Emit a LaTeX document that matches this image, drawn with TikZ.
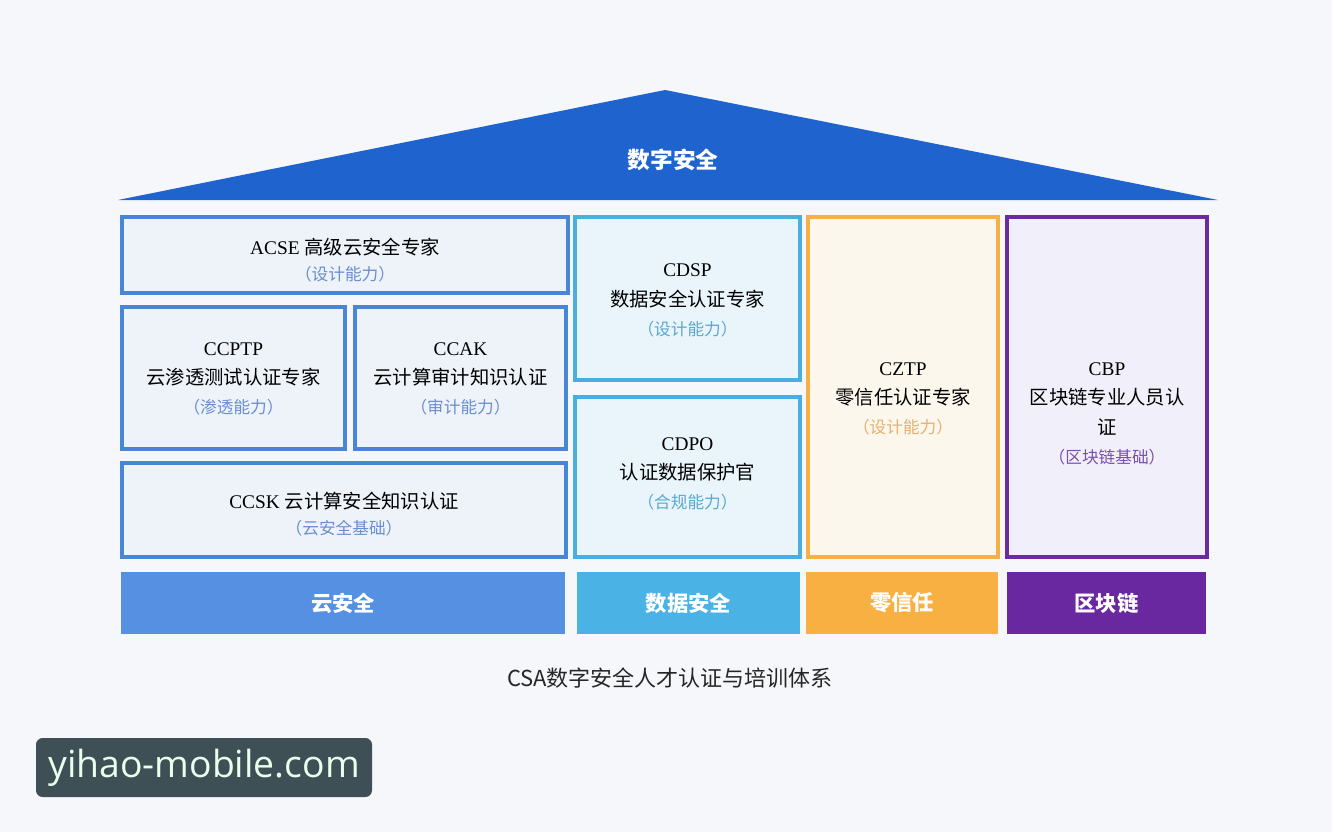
\documentclass[tikz,border=0pt]{standalone}
\usepackage{fontspec}
\setmainfont{Liberation Serif}
\newfontfamily\cjk{Noto Sans CJK SC}
\newfontfamily\wmfont{Open Sans}
\definecolor{bg}{HTML}{F6F7FB}
\definecolor{roofblue}{HTML}{1F63CF}
\definecolor{cloudline}{HTML}{4A86D8}
\definecolor{cloudfill}{HTML}{EEF3FA}
\definecolor{cloudbar}{HTML}{5590E2}
\definecolor{cloudsub}{HTML}{6A8ED0}
\definecolor{dataline}{HTML}{4AAEE0}
\definecolor{datafill}{HTML}{EAF5FB}
\definecolor{databar}{HTML}{4AB2E4}
\definecolor{datasub}{HTML}{5AA8D0}
\definecolor{ztline}{HTML}{F5B148}
\definecolor{ztfill}{HTML}{FCF7EC}
\definecolor{ztbar}{HTML}{F8B043}
\definecolor{ztsub}{HTML}{E8B070}
\definecolor{bcline}{HTML}{6A2AA0}
\definecolor{bcfill}{HTML}{F1EFF9}
\definecolor{bcbar}{HTML}{6A28A0}
\definecolor{bcsub}{HTML}{7A50B0}
\definecolor{wmbg}{HTML}{3E4F55}
% style, name, x1, y1, x2, y2, text, text y-offset (px, down)
\newcommand\cbox[8]{%
  \node[#1, minimum width={(#5-#3)*0.75pt}, minimum height={(#6-#4)*0.75pt}] (#2) at ({(#3+#5)/2},{(#4+#6)/2}) {};
  \node[certtext] (#2-t) at ([yshift={-(#8)*0.75pt}]#2.center) {#7};}
\tikzset{
  certbox/.style={draw, line width=2.6pt, inner sep=0pt},
  certtext/.style={inner sep=0pt, align=center, font=\fontsize{14.5}{22}\selectfont, text=black},
  cloudbox/.style={certbox, draw=cloudline, fill=cloudfill},
  databox/.style={certbox, draw=dataline, fill=datafill},
  ztbox/.style={certbox, draw=ztline, fill=ztfill},
  bcbox/.style={certbox, draw=bcline, fill=bcfill},
  barbox/.style={inner sep=0pt, align=center, text=white, font=\cjk\bfseries\fontsize{16}{19}\selectfont},
}
\newcommand\sub[2]{{\color{#1}\cjk\fontsize{12.5}{15}\selectfont （#2）}}
\begin{document}
\begin{tikzpicture}[x=0.75pt,y=-0.75pt]
\useasboundingbox (0,0) rectangle (1332,832);
\fill[bg] (0,0) rectangle (1332,832);
% roof
\coordinate (rl) at (118,200);
\coordinate (rr) at (1218,200);
\coordinate (ra) at (665,90);
\fill[roofblue] (rl) -- (ra) -- (rr) -- cycle;
\node[text=white, font=\cjk\bfseries\fontsize{17}{20}\selectfont] (roof) at (673,160) {数字安全};
% cloud
\cbox{cloudbox}{acse}{122}{217}{568}{293}{ACSE {\cjk 高级云安全专家}\\[-2pt]\sub{cloudsub}{设计能力}}{5}
\cbox{cloudbox}{ccptp}{122}{307}{345}{449}{CCPTP\\{\cjk 云渗透测试认证专家}\\\sub{cloudsub}{渗透能力}}{1}
\cbox{cloudbox}{ccak}{355}{307}{566}{449}{CCAK\\{\cjk 云计算审计知识认证}\\\sub{cloudsub}{审计能力}}{1}
\cbox{cloudbox}{ccsk}{122}{463}{566}{557}{CCSK {\cjk 云计算安全知识认证}\\[-2pt]\sub{cloudsub}{云安全基础}}{4}
% data
\cbox{databox}{cdsp}{575}{217}{800}{380}{CDSP\\{\cjk 数据安全认证专家}\\\sub{datasub}{设计能力}}{2}
\cbox{databox}{cdpo}{575}{397}{800}{557}{CDPO\\{\cjk 认证数据保护官}\\\sub{datasub}{合规能力}}{-3}
% zero trust
\cbox{ztbox}{cztp}{808}{217}{998}{557}{CZTP\\{\cjk 零信任认证专家}\\\sub{ztsub}{设计能力}}{12}
% blockchain
\cbox{bcbox}{cbp}{1007}{217}{1207}{557}{CBP\\{\cjk 区块链专业人员认}\\{\cjk 证}\\\sub{bcsub}{区块链基础}}{27}
% bars
\node[barbox, fill=cloudbar, minimum width={444*0.75pt}, minimum height={62*0.75pt}] (barcloud) at (343,603) {云安全};
\node[barbox, fill=databar, minimum width={223*0.75pt}, minimum height={62*0.75pt}] (bardata) at (688.5,603) {数据安全};
\node[barbox, fill=ztbar, minimum width={192*0.75pt}, minimum height={62*0.75pt}] (barzt) at (902,603) {零信任};
\node[barbox, fill=bcbar, minimum width={199*0.75pt}, minimum height={62*0.75pt}] (barbc) at (1106.5,603) {区块链};
% caption
\node[font=\cjk\fontsize{16.5}{20}\selectfont, text=black!85] (caption) at (670,678) {CSA数字安全人才认证与培训体系};
% watermark
\node[fill=wmbg, rounded corners=5pt, inner sep=0pt, minimum width={336*0.75pt}, minimum height={59*0.75pt}, text=white!92!green, font=\wmfont\fontsize{28}{30}\selectfont] (wm) at (204,767.5) {yihao-mobile.com};
\end{tikzpicture}
\end{document}
